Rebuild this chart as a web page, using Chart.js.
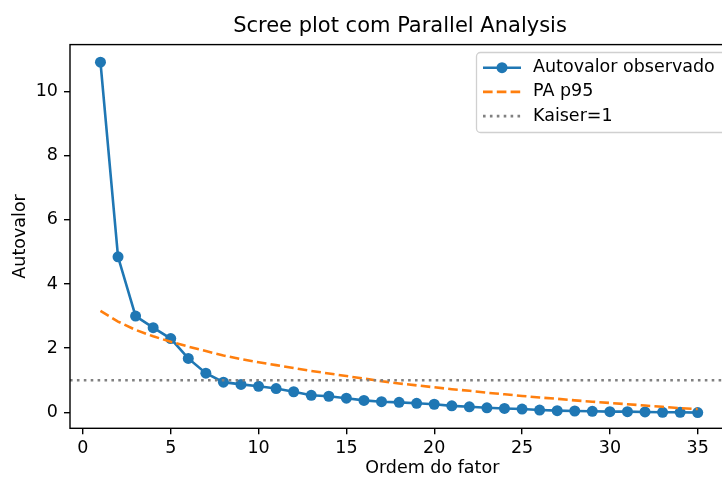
<!DOCTYPE html>
<html>
<head>
<meta charset="utf-8">
<script src="https://cdn.jsdelivr.net/npm/chart.js@4.4.0/dist/chart.umd.min.js"></script>
<style>
  html, body { margin: 0; padding: 0; background: #fff; overflow: hidden; }
  canvas { display: block; }
</style>
</head>
<body>
<canvas id="grafico" width="800" height="477"></canvas>
<script>
// dados
const fatores = [1, 2, 3, 4, 5, 6, 7, 8, 9, 10, 11, 12, 13, 14, 15, 16, 17, 18, 19, 20,
  21, 22, 23, 24, 25, 26, 27, 28, 29, 30, 31, 32, 33, 34, 35];
const autovalorObservado = [10.92, 4.85, 3.0, 2.64, 2.3, 1.68, 1.22, 0.94, 0.87, 0.81,
  0.74, 0.64, 0.53, 0.5, 0.44, 0.37, 0.33, 0.31, 0.28, 0.25,
  0.2, 0.17, 0.14, 0.12, 0.1, 0.07, 0.05, 0.04, 0.03, 0.02,
  0.02, 0.01, 0.0, 0.0, -0.01];
const paP95 = [3.16, 2.83, 2.57, 2.37, 2.2, 2.05, 1.91, 1.77, 1.66, 1.56,
  1.47, 1.38, 1.29, 1.21, 1.13, 1.05, 0.97, 0.9, 0.84, 0.78,
  0.72, 0.67, 0.61, 0.56, 0.51, 0.46, 0.42, 0.37, 0.33, 0.29,
  0.25, 0.21, 0.17, 0.13, 0.1];
const kaiser = 1;
const xTicks = [0, 5, 10, 15, 20, 25, 30, 35];
const yTicks = [0, 2, 4, 6, 8, 10];

// limites dos eixos (o eixo x continua fora da janela, como no original)
const xMin = -0.734, xMax = 40.51;
const yMin = -0.5, yMax = 11.47;

const familia = "'DejaVu Sans', sans-serif";
const fonteTick = { family: familia, size: 17.5, lineHeight: 1 };

function pontos(valores) {
  return fatores.map(function (f, i) { return { x: f, y: valores[i] }; });
}

// moldura do eixo (spines)
const moldura = {
  id: 'moldura',
  afterDatasetsDraw(chart) {
    const a = chart.chartArea, c = chart.ctx;
    c.save();
    c.strokeStyle = '#000';
    c.lineWidth = 1.4;
    c.strokeRect(a.left, a.top, a.right - a.left, a.bottom - a.top);
    c.restore();
  }
};

// legenda no canto superior direito, estilo matplotlib
const legenda = {
  id: 'legenda',
  afterDraw(chart) {
    const c = chart.ctx;
    const x0 = 476.5, y0 = 52.5, w = 280, h = 80, r = 4;
    c.save();
    c.beginPath();
    c.roundRect(x0, y0, w, h, r);
    c.fillStyle = 'rgba(255,255,255,0.8)';
    c.fill();
    c.strokeStyle = '#d0d0d0';
    c.lineWidth = 1.3;
    c.stroke();

    chart.data.datasets.forEach(function (ds, i) {
      const y = 67.7 + i * 24.2;
      c.beginPath();
      c.setLineDash(ds.borderDash || []);
      c.strokeStyle = ds.borderColor;
      c.lineWidth = ds.borderWidth;
      c.moveTo(483, y);
      c.lineTo(521, y);
      c.stroke();
      c.setLineDash([]);
      if (ds.pointRadius > 0) {
        c.beginPath();
        c.arc(502, y, ds.pointRadius, 0, Math.PI * 2);
        c.fillStyle = ds.backgroundColor;
        c.fill();
      }
      c.fillStyle = '#000';
      c.font = '17.5px ' + familia;
      c.textBaseline = 'middle';
      c.textAlign = 'left';
      c.fillText(ds.label, 533, y);
    });
    c.restore();
  }
};

const ctx = document.getElementById('grafico').getContext('2d');

new Chart(ctx, {
  type: 'line',
  data: {
    datasets: [{
      label: 'Autovalor observado',
      data: pontos(autovalorObservado),
      borderColor: '#1f77b4',
      backgroundColor: '#1f77b4',
      borderWidth: 2.6,
      pointRadius: 5.5,
      pointBorderWidth: 0,
      tension: 0,
      order: 3
    }, {
      label: 'PA p95',
      data: pontos(paP95),
      borderColor: '#ff7f0e',
      backgroundColor: '#ff7f0e',
      borderWidth: 2.6,
      borderDash: [9.6, 4.2],
      pointRadius: 0,
      tension: 0,
      order: 2
    }, {
      label: 'Kaiser=1',
      data: [{ x: xMin, y: kaiser }, { x: xMax, y: kaiser }],
      borderColor: '#808080',
      backgroundColor: '#808080',
      borderWidth: 2.6,
      borderDash: [2.6, 4.3],
      pointRadius: 0,
      order: 1
    }]
  },
  options: {
    responsive: false,
    animation: false,
    events: [],
    layout: { padding: 0 },
    plugins: {
      legend: { display: false },
      tooltip: { enabled: false },
      title: {
        display: true,
        text: 'Scree plot com Parallel Analysis',
        color: '#000',
        font: { family: familia, size: 21, weight: 'normal', lineHeight: 1 },
        padding: { top: 16.2, bottom: 7.4 }
      }
    },
    scales: {
      x: {
        type: 'linear',
        min: xMin,
        max: xMax,
        afterBuildTicks: function (s) { s.ticks = xTicks.map(function (v) { return { value: v }; }); },
        afterFit: function (s) { s.height = 48.7; },
        grid: { drawOnChartArea: false, tickLength: 6, color: '#000', lineWidth: 1.4 },
        border: { display: false },
        ticks: { color: '#000', font: fonteTick, padding: 5, autoSkip: false, maxRotation: 0 },
        title: {
          display: true,
          text: 'Ordem do fator',
          color: '#000',
          font: fonteTick,
          padding: { top: 0, bottom: 0 }
        }
      },
      y: {
        min: yMin,
        max: yMax,
        afterBuildTicks: function (s) { s.ticks = yTicks.map(function (v) { return { value: v }; }); },
        afterFit: function (s) { s.width = 70; },
        grid: { drawOnChartArea: false, tickLength: 6, color: '#000', lineWidth: 1.4 },
        border: { display: false },
        ticks: { color: '#000', font: fonteTick, padding: 6, autoSkip: false },
        title: {
          display: true,
          text: 'Autovalor',
          color: '#000',
          font: fonteTick,
          padding: { top: 11.25, bottom: 0 }
        }
      }
    }
  },
  plugins: [moldura, legenda]
});
</script>
</body>
</html>
